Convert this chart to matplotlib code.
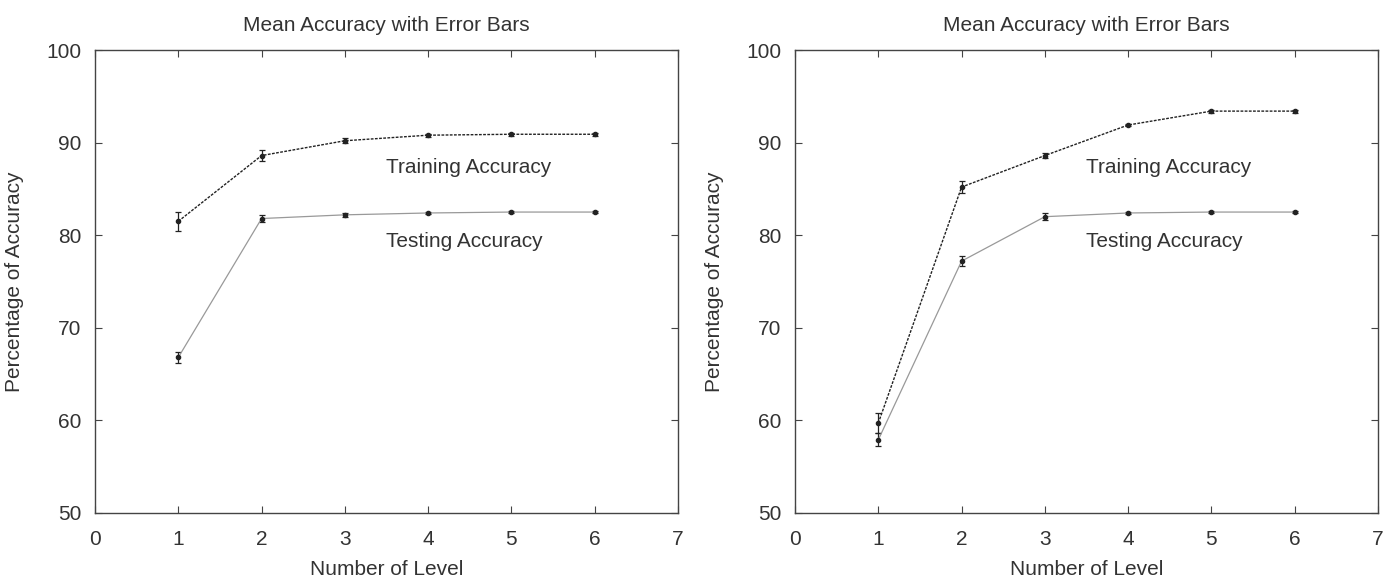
import numpy as np
import matplotlib
matplotlib.use('Agg')
import matplotlib.pyplot as plt

plt.rcParams['font.family'] = ['Liberation Sans', 'DejaVu Sans']

levels = [1, 2, 3, 4, 5, 6]

# left panel
train_left = [81.5, 88.6, 90.2, 90.8, 90.9, 90.9]
train_left_err = [1.0, 0.6, 0.25, 0.15, 0.15, 0.15]
test_left = [66.8, 81.8, 82.2, 82.4, 82.5, 82.5]
test_left_err = [0.6, 0.4, 0.25, 0.1, 0.1, 0.1]

# right panel
train_right = [59.7, 85.2, 88.6, 91.9, 93.4, 93.4]
train_right_err = [1.1, 0.6, 0.3, 0.15, 0.15, 0.15]
test_right = [57.9, 77.2, 82.0, 82.4, 82.5, 82.5]
test_right_err = [0.7, 0.5, 0.4, 0.1, 0.1, 0.1]

panels = [
    (train_left, train_left_err, test_left, test_left_err),
    (train_right, train_right_err, test_right, test_right_err),
]

fig = plt.figure(figsize=(13.96, 5.8), dpi=100)
lefts = [95 / 1396, 795 / 1396]
text_col = '#333333'

for left, (tr, tr_e, te, te_e) in zip(lefts, panels):
    ax = fig.add_axes([left, 67 / 580, 583 / 1396, 463 / 580])
    ax.errorbar(levels, tr, yerr=tr_e, color='#222222', linestyle=(0, (2, 1)),
                linewidth=1.0, marker='o', markersize=3, capsize=2.5,
                elinewidth=0.9, capthick=0.9)
    ax.errorbar(levels, te, yerr=te_e, color='#999999', linestyle='-',
                linewidth=0.9, marker='o', markersize=3, mfc='#222222',
                mec='#222222', ecolor='#222222', capsize=2.5,
                elinewidth=0.9, capthick=0.9)
    ax.text(3.5, 87.3, 'Training Accuracy', fontsize=15, color=text_col, va='center')
    ax.text(3.5, 79.3, 'Testing Accuracy', fontsize=15, color=text_col, va='center')
    ax.set_xlim(0, 7)
    ax.set_ylim(50, 100)
    ax.set_xticks(range(0, 8))
    ax.set_yticks(range(50, 101, 10))
    ax.tick_params(direction='in', top=True, right=True, length=5,
                   labelsize=15, colors='#444444', labelcolor=text_col)
    ax.tick_params(axis='x', pad=12)
    ax.tick_params(axis='y', pad=10)
    for s in ax.spines.values():
        s.set_color('#444444')
        s.set_linewidth(1.0)
    ax.set_xlabel('Number of Level', fontsize=15, color=text_col, labelpad=8)
    ax.set_ylabel('Percentage of Accuracy', fontsize=15, color=text_col, labelpad=16)
    ax.set_title('Mean Accuracy with Error Bars', fontsize=15, color=text_col, pad=14)

fig.savefig('out.png', dpi=100)
